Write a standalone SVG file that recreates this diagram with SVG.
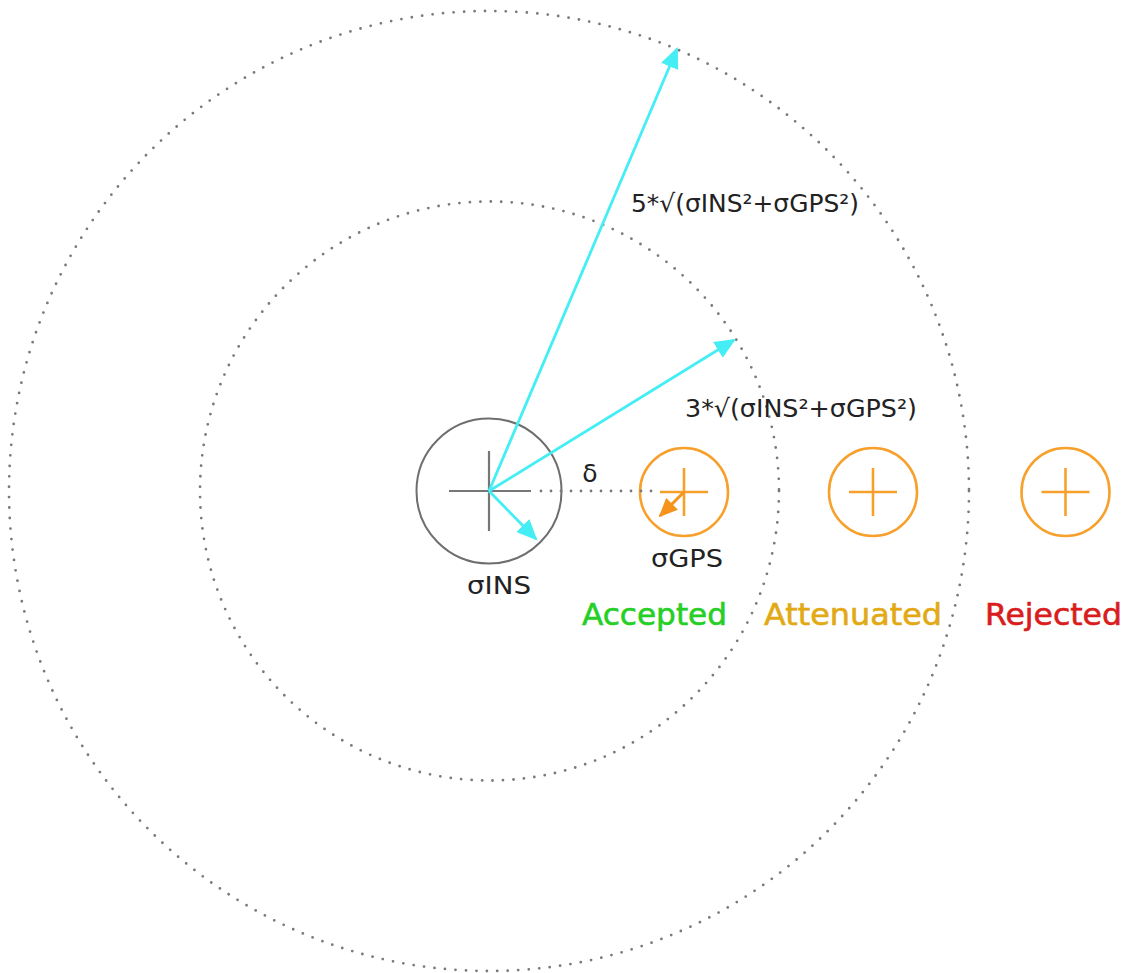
<svg xmlns="http://www.w3.org/2000/svg" width="1129" height="973" viewBox="0 0 1129 973">
  <style>
    .ring { fill: none; stroke: #7a7a7a; stroke-width: 2.8; stroke-linecap: round; stroke-dasharray: 0 10.5; }
    .ins { fill: none; stroke: #6e6e6e; stroke-width: 2; }
    .ins-cross { stroke: #777; stroke-width: 2.2; }
    .gps { fill: none; stroke: #f7a02c; stroke-width: 2.6; }
    .gps-cross { stroke: #f7a02c; stroke-width: 2.6; }
    .vec { stroke: #45eef4; stroke-width: 2.8; fill: none; }
    .vec-gps { stroke: #f5931c; stroke-width: 3; fill: none; }
    .lbl { font-family: "DejaVu Sans", "Liberation Sans", sans-serif; fill: #222; font-size: 25px; }
    .status { font-family: "DejaVu Sans", "Liberation Sans", sans-serif; font-size: 30px; stroke-width: 0.6; }
  </style>
  <defs>
    <marker id="head-cyan" viewBox="0 0 10 10" refX="9" refY="5" markerWidth="21" markerHeight="21" markerUnits="userSpaceOnUse" orient="auto">
      <path d="M0,0.6 L10,5 L0,9.4 Z" fill="#45eef4"/>
    </marker>
    <marker id="head-orange" viewBox="0 0 10 10" refX="9" refY="5" markerWidth="19" markerHeight="19" markerUnits="userSpaceOnUse" orient="auto">
      <path d="M0,0.6 L10,5 L0,9.4 Z" fill="#f5931c"/>
    </marker>
  </defs>

  <rect width="1129" height="973" fill="#ffffff"/>

  <!-- gating thresholds: 3 sigma and 5 sigma rings -->
  <g id="rings">
    <circle class="ring" cx="489" cy="491" r="480"/>
    <circle class="ring" cx="489.5" cy="491" r="289.5"/>
  </g>

  <!-- INS estimate -->
  <g id="ins">
    <circle class="ins" cx="489" cy="491" r="72.5"/>
    <line class="ins-cross" x1="449" y1="491" x2="531" y2="491"/>
    <line class="ins-cross" x1="489" y1="451" x2="489" y2="531"/>
    <text class="lbl" x="499" y="594" text-anchor="middle" textLength="64" lengthAdjust="spacingAndGlyphs">σINS</text>
  </g>

  <!-- GPS fix inside the inner ring -->
  <g id="gps-accepted">
    <circle class="gps" cx="684" cy="492" r="44"/>
    <line class="gps-cross" x1="660" y1="492" x2="708" y2="492"/>
    <line class="gps-cross" x1="684" y1="468" x2="684" y2="516"/>
    <text class="lbl" x="687" y="567" text-anchor="middle" textLength="72" lengthAdjust="spacingAndGlyphs">σGPS</text>
  </g>

  <!-- GPS fix between the rings -->
  <g id="gps-attenuated">
    <circle class="gps" cx="873" cy="492" r="44"/>
    <line class="gps-cross" x1="849" y1="492" x2="897" y2="492"/>
    <line class="gps-cross" x1="873" y1="468" x2="873" y2="516"/>
  </g>

  <!-- GPS fix outside the outer ring -->
  <g id="gps-rejected">
    <circle class="gps" cx="1065.5" cy="492" r="44"/>
    <line class="gps-cross" x1="1041.5" y1="492" x2="1089.5" y2="492"/>
    <line class="gps-cross" x1="1065.5" y1="468" x2="1065.5" y2="516"/>
  </g>

  <!-- vectors and distance -->
  <g id="connectors">
    <line class="ring" x1="541" y1="491" x2="660" y2="491" style="stroke-dasharray: 0 10"/>
    <line class="vec" x1="489" y1="491" x2="677" y2="49" marker-end="url(#head-cyan)"/>
    <line class="vec" x1="489" y1="491" x2="734" y2="340" marker-end="url(#head-cyan)"/>
    <line class="vec" x1="489" y1="491" x2="536" y2="539" marker-end="url(#head-cyan)"/>
    <line class="vec-gps" x1="684" y1="492" x2="660" y2="516" marker-end="url(#head-orange)"/>
  </g>

  <g id="labels">
    <text class="lbl" x="590" y="482" text-anchor="middle">δ</text>
    <text class="lbl" x="631" y="212" textLength="228" lengthAdjust="spacingAndGlyphs">5*√(σINS²+σGPS²)</text>
    <text class="lbl" x="685" y="417" textLength="232" lengthAdjust="spacingAndGlyphs">3*√(σINS²+σGPS²)</text>
    <text class="status" x="582" y="625" fill="#26cf26" stroke="#26cf26" textLength="145" lengthAdjust="spacingAndGlyphs">Accepted</text>
    <text class="status" x="764" y="625" fill="#e2a914" stroke="#e2a914" textLength="178" lengthAdjust="spacingAndGlyphs">Attenuated</text>
    <text class="status" x="985" y="625" fill="#d91c1c" stroke="#d91c1c" textLength="137" lengthAdjust="spacingAndGlyphs">Rejected</text>
  </g>
</svg>
